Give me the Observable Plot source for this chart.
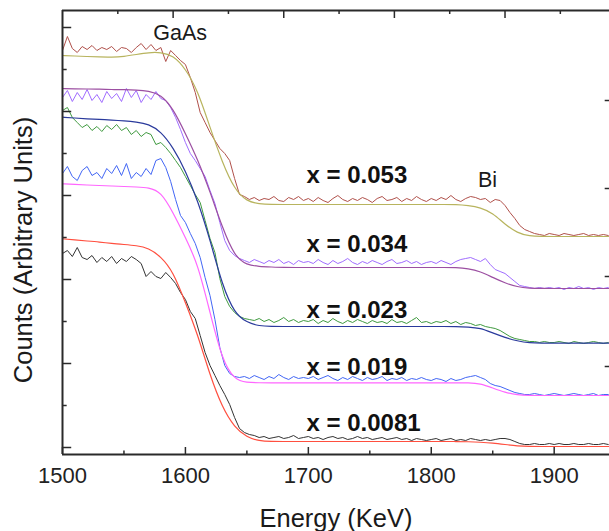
<!DOCTYPE html>
<html><head><meta charset="utf-8">
<script src="https://cdn.jsdelivr.net/npm/d3@7"></script>
<script src="https://cdn.jsdelivr.net/npm/@observablehq/plot@0.6"></script>
<style>
html,body{margin:0;padding:0;background:#fff;}
#chart{width:609px;height:531px;overflow:hidden;}
</style></head><body><div id="chart"></div>
<script>
// Energy grid of the measured spectra (keV) and of the fitted curves
const dataEnergy = d3.range(1500, 1945, 4);   // 112 channels
const fitEnergy = d3.range(1500, 1951, 10);   // 46 points

// Measured counts (arbitrary units, offset spectra)
const counts053 = [397,411,399,395,401,398,402,397,400,398,401,396,400,399,395,400,404,398,403,397,400,386,397,392,387,
 383,370,355,335,325,315,307,299,294,287,269,253,251,248,250,247,249,248,251,247,246,250,248,251,247,
 249,246,250,247,245,249,252,248,246,249,247,250,248,245,249,251,247,248,250,246,249,247,251,248,246,
 249,247,250,248,252,248,246,249,251,250,248,249,245,248,247,242,235,229,222,218,216,214,213,212,214,
 213,212,214,213,212,213,214,212,213,212,213,212];
const counts034 = [350,357,346,355,348,358,347,353,345,356,349,354,346,359,350,357,345,353,348,356,349,347,340,330,318,
 305,294,287,279,271,257,244,225,207,197,192,189,187,185,188,186,184,187,185,188,184,186,183,187,185,
 186,184,188,185,183,187,184,186,189,185,183,186,184,187,185,183,186,188,184,185,187,184,186,183,185,
 186,184,187,185,183,186,188,189,190,188,186,189,183,178,176,174,170,166,162,161,160,159,160,159,160,
 159,160,158,160,159,161,159,160,158,160,159,160];
const counts023 = [337,340,330,325,320,323,317,321,316,322,318,323,317,320,313,317,311,315,313,303,305,300,294,287,280,
 271,262,253,245,227,209,195,169,151,141,135,131,129,128,127,129,126,128,125,127,130,126,128,125,127,
 126,128,124,127,125,129,126,124,127,125,128,126,124,127,125,126,124,128,125,126,124,127,130,125,126,
 124,126,125,127,124,126,123,125,124,122,123,121,120,119,117,114,111,109,108,107,106,106,105,106,105,
 105,106,105,104,106,105,104,105,106,105,104,105];
const counts019 = [274,281,271,267,277,281,272,275,269,279,274,282,272,284,269,275,271,279,273,287,289,280,266,248,232,
 225,214,204,190,170,152,128,100,82,74,71,70,71,69,72,70,68,71,69,73,70,68,71,69,70,
 69,71,68,70,72,69,67,70,68,71,69,67,70,68,69,71,67,69,68,70,67,69,68,70,68,
 67,69,68,66,69,67,68,70,71,72,70,68,64,62,61,59,57,55,54,53,53,54,53,52,53,
 54,53,52,53,54,53,52,53,54,52,53,53];
const counts0081 = [194,197,191,200,190,188,192,185,190,186,191,184,189,186,191,188,184,171,176,171,169,175,170,164,155,
 148,136,129,112,95,82,72,62,53,43,30,19,15,13,12,10,11,9,10,11,9,10,12,9,10,
 11,9,10,8,10,11,9,10,8,9,11,9,10,8,9,10,8,9,10,8,9,7,9,8,7,
 8,9,7,8,9,7,8,7,9,8,7,8,7,8,9,9,8,6,4,3,3,4,3,3,4,
 3,4,3,3,4,3,3,4,3,3,4,3];

// Fitted (simulated) spectra
const fit053 = [392,391.5,391,390.5,390.3,391,393,395,395.3,392,379,357,320,285,258,246,243.7,
 243,243,243,243,243,243,243,243,243,243,243,243,243,243,243,243,
 242,240,234.5,223,214.5,211.3,211,
 211,211,211,211,211,211];
const fit034 = [359,358.7,358.5,358.3,358,357.8,357.5,356.5,353,339,314,288,256,220,191,182.5,181,
 180.5,180,180,180,180,180,180,180,180,180,180,180,180,180,180,180,
 179,176,170,164.5,160.5,159.3,159,
 159,159,159,159,159,159];
const fit023 = [330.3,329.5,328.7,328,327.5,326.7,325.5,323.5,316,300,277,247,208,162,134,125,121.5,
 121,121,121,121,121,121,121,121,121,121,121,121,121,121,121,121,
 120.5,119.5,114.5,110,106.5,104.6,104.3,
 104.3,104.3,104.3,104.3,104.3,104.3];
const fit019 = [263.7,263,262.5,262,261.5,261,260.5,260,256,235,210,184,135,87,67.5,65,64.7,
 64.7,64.7,64.7,64.7,64.7,64.7,64.7,64.7,64.7,64.7,64.7,64.7,64.7,64.7,64.7,64.7,
 64.7,64,59.5,55,52.5,52,52,
 52,52,52,52,52,52];
const fit0081 = [208.7,207.5,206.5,205.5,204,203,202,199.5,191,176,145,113,72,40,20,10.3,6.5,
 6,6,6,6,6,6,6,6,6,6,6,6,6,6,6,6,
 5.8,5.3,4.5,3,1.5,1,1,
 1,1,1,1,1,1];

const seriesLabels = ["x = 0.053", "x = 0.034", "x = 0.023", "x = 0.019", "x = 0.0081"];
const seriesCounts = [counts053, counts034, counts023, counts019, counts0081];
const seriesFits = [fit053, fit034, fit023, fit019, fit0081];
const dataColors = ["#b0504a", "#a06cff", "#3f9a3f", "#4266f5", "#333333"];
const fitColors = ["#b8b45e", "#9c4fa2", "#2a3a9c", "#ff66ff", "#ff4f3f"];

// annotation anchors (data units)
const labelEnergy = 1698.5;
const labelCounts = [272, 202.7, 137.4, 80.4, 24];
const elementLabels = ["GaAs", "Bi"];
const elementEnergy = [1595.7, 1845.7];
const elementCounts = [414.5, 267];

// axis ticks
const xTicks = [1500, 1600, 1700, 1800, 1900];
const xMinorTicks = [1550, 1650, 1750, 1850];
const topMajorTicks = [1590, 1680, 1770, 1860];
const topMinorTicks = [1545, 1635, 1725, 1815, 1905];
const leftMajorTicks = [0, 84, 168, 252, 336, 420];
const leftMinorTicks = [42, 126, 210, 294, 378];
const rightTicks = [81, 171, 259, 347];

const xMin = 1500, xMax = 1945, yMin = -7, yMax = 437;
const axisColor = "#2a2a2a";

const marks = [];
seriesCounts.forEach((arr, i) => {
  const rows = arr.map((c, j) => ({E: dataEnergy[j], c}));
  marks.push(Plot.line(rows, {x: "E", y: "c", stroke: dataColors[i], strokeWidth: 1, clip: true}));
});
seriesFits.forEach((arr, i) => {
  const rows = arr.map((c, j) => ({E: fitEnergy[j], c}));
  marks.push(Plot.line(rows, {x: "E", y: "c", stroke: fitColors[i], strokeWidth: 1.2, curve: "basis", clip: true}));
});

// frame lines
marks.push(Plot.ruleY([yMin], {stroke: axisColor, strokeWidth: 2}));
marks.push(Plot.ruleY([yMax], {stroke: axisColor, strokeWidth: 2}));
marks.push(Plot.ruleX([xMin], {stroke: axisColor, strokeWidth: 2}));
// inward ticks
marks.push(Plot.ruleX(xTicks, {y1: yMin, y2: yMin + 7, stroke: axisColor, strokeWidth: 1.5}));
marks.push(Plot.ruleX(xMinorTicks, {y1: yMin, y2: yMin + 3.5, stroke: axisColor, strokeWidth: 1.5}));
marks.push(Plot.ruleX(topMajorTicks, {y1: yMax, y2: yMax - 8, stroke: axisColor, strokeWidth: 1.5}));
marks.push(Plot.ruleX(topMinorTicks, {y1: yMax, y2: yMax - 4, stroke: axisColor, strokeWidth: 1.5}));
marks.push(Plot.ruleY(leftMajorTicks, {x1: xMin, x2: xMin + 7.5, stroke: axisColor, strokeWidth: 1.5}));
marks.push(Plot.ruleY(leftMinorTicks, {x1: xMin, x2: xMin + 3.8, stroke: axisColor, strokeWidth: 1.5}));
marks.push(Plot.ruleY(rightTicks, {x1: xMax - 3.5, x2: xMax, stroke: axisColor, strokeWidth: 1.5}));

// x tick labels
marks.push(Plot.axisX({anchor: "bottom", ticks: xTicks, tickSize: 0, tickPadding: 12.7, label: null,
  tickFormat: d3.format("d"), fontSize: 22, fill: "#222"}));

// series labels
marks.push(Plot.text(seriesLabels, {x: () => labelEnergy, y: (d, i) => labelCounts[i], text: d => d,
  textAnchor: "start", lineAnchor: "middle", fontWeight: "bold", fontSize: 24, fill: "#111"}));
// element labels
marks.push(Plot.text(elementLabels, {x: (d, i) => elementEnergy[i], y: (d, i) => elementCounts[i], text: d => d,
  lineAnchor: "middle", fontSize: 21.5, fill: "#1a1a1a"}));
// axis titles
marks.push(Plot.text(["Energy (KeV)"], {text: d => d, frameAnchor: "bottom", textAnchor: "middle", lineAnchor: "middle",
  dy: 64.8, fontSize: 25.5, fill: "#1a1a1a"}));
marks.push(Plot.text(["Counts (Arbitrary Units)"], {text: d => d, frameAnchor: "left", textAnchor: "middle", lineAnchor: "middle",
  rotate: -90, dx: -38.5, dy: 17.5, fontSize: 25.5, fill: "#1a1a1a"}));

const chart = Plot.plot({
  width: 609, height: 531,
  marginLeft: 62, marginRight: 0, marginTop: 10, marginBottom: 77,
  style: {fontFamily: "'Liberation Sans', Arial, sans-serif", background: "#fff", color: "#222", overflow: "visible"},
  x: {domain: [xMin, xMax], axis: null},
  y: {domain: [yMin, yMax], axis: null},
  marks
});
document.getElementById("chart").appendChild(chart);
</script></body></html>
